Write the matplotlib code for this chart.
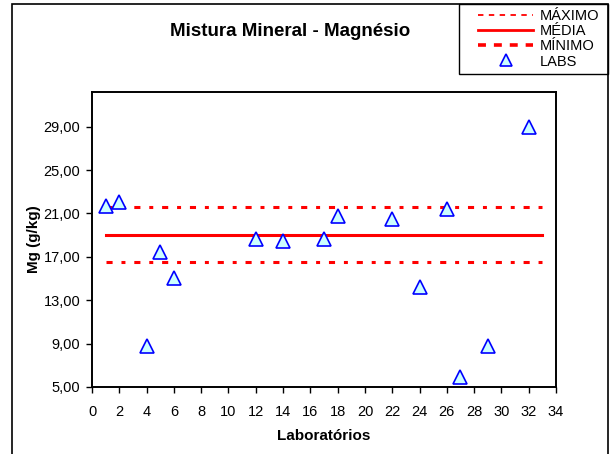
import numpy as np
import matplotlib
matplotlib.use("Agg")
from matplotlib import pyplot as plt
from matplotlib.lines import Line2D
from matplotlib.patches import Rectangle
from matplotlib.ticker import FuncFormatter, MultipleLocator

plt.rcParams['font.family'] = ['Liberation Sans', 'DejaVu Sans']

# results per laboratory
labs = [1, 2, 4, 5, 6, 12, 14, 17, 18, 22, 24, 26, 27, 29, 32]
mg = [21.7, 22.05, 8.82, 17.44, 15.06, 18.69, 18.49, 18.63, 20.74, 20.51,
      14.25, 21.37, 5.89, 8.82, 28.94]

# reference limits
line_x = [1, 33]
maximo = 21.57
media = 19.02
minimo = 16.51

W, H = 610, 454
fig = plt.figure(figsize=(6.1, 4.54), dpi=100)
ax = fig.add_axes([92 / W, 1 - 387 / H, (556 - 92) / W, (387 - 92) / H])

dash = (0, (2.0, 2.9, 1.3, 2.9))
ax.plot(line_x, [maximo, maximo], color='#ff0000', lw=2.2, linestyle=dash, zorder=2)
ax.plot(line_x, [media, media], color='#ff0000', lw=2.2, zorder=2)
ax.plot(line_x, [minimo, minimo], color='#ff0000', lw=2.2, linestyle=dash, zorder=2)
ax.plot(labs, mg, linestyle='none', marker='^', markersize=9.5,
        markerfacecolor='#ccffff', markeredgecolor='#0000ff',
        markeredgewidth=1.2, zorder=3)

ax.set_xlim(0, 34)
ax.set_ylim(5, 32.2)
ax.xaxis.set_major_locator(MultipleLocator(2))
ax.set_yticks(np.arange(5, 30, 4))
ax.yaxis.set_major_formatter(FuncFormatter(lambda v, p: f"{v:.2f}".replace('.', ',')))
ax.tick_params(direction='out', length=4, width=1, labelsize=10.5)
ax.tick_params(axis='x', pad=9)
ax.tick_params(axis='y', pad=4.5)
for s in ax.spines.values():
    s.set_linewidth(1.4)

ax.set_xlabel('Laboratórios', fontsize=11, fontweight='bold', labelpad=7)
ax.set_ylabel('Mg (g/kg)', fontsize=11, fontweight='bold', labelpad=2)
fig.text(290 / W, 1 - 31 / H, 'Mistura Mineral - Magnésio', fontsize=13.5,
         fontweight='bold', ha='center', va='center')

# outer chart border
fig.patches.append(Rectangle((12 / W, -0.02), (608 - 12) / W, 1.02 - 4 / H,
                             transform=fig.transFigure, fill=False,
                             edgecolor='black', lw=1.2))
# legend box
fig.patches.append(Rectangle((459 / W, 1 - 74 / H), (608 - 459) / W, 70 / H,
                             transform=fig.transFigure, fill=False,
                             edgecolor='black', lw=1.0, zorder=5))

handles = [
    Line2D([], [], color='#ff0000', lw=1.3, linestyle=(0, (3, 3))),
    Line2D([], [], color='#ff0000', lw=2.0),
    Line2D([], [], color='#ff0000', lw=2.6, linestyle=(0, (2.2, 2.2))),
    Line2D([], [], linestyle='none', marker='^', markersize=8,
           markerfacecolor='#ccffff', markeredgecolor='#0000ff', markeredgewidth=1.2),
]
leg = fig.legend(handles, ['MÁXIMO', 'MÉDIA', 'MÍNIMO', 'LABS'],
                 loc='upper left', bbox_to_anchor=(478 / W, 1 - 9 / H),
                 fontsize=10.5, frameon=False,
                 handlelength=3.8, handletextpad=0.45, labelspacing=0.08,
                 borderpad=0, borderaxespad=0)

fig.savefig('out.png', dpi=100)
